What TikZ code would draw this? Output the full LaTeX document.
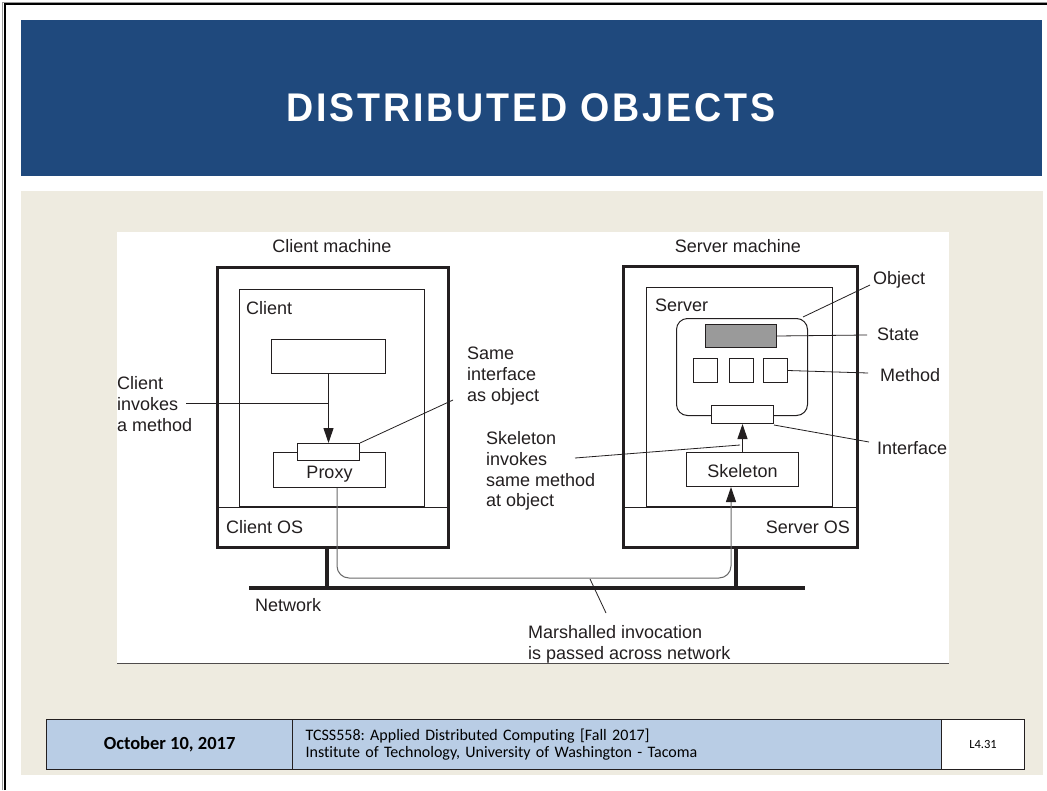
\documentclass[tikz,border=0pt]{standalone}
\usepackage{fontspec}
\setmainfont{Liberation Sans}
\newfontfamily\titlefont[LetterSpace=7,FakeStretch=0.94]{Liberation Sans}
\newfontfamily\footfont[Ligatures=NoCommon]{Carlito}
\usetikzlibrary{arrows.meta}
\frenchspacing

\definecolor{titleblue}{HTML}{1F497D}
\definecolor{panel}{HTML}{EEEBE0}
\definecolor{footblue}{HTML}{B9CDE5}
\definecolor{stategray}{HTML}{9A9A9A}
\definecolor{ink}{HTML}{231F20}
\definecolor{wire}{HTML}{6A6A6A}

\tikzset{
  machine/.style={draw=ink, line width=3pt, inner sep=0pt, anchor=north west},
  box/.style={draw=ink, line width=1pt, fill=white, inner sep=0pt, anchor=north west},
  boxtext/.style={box, text=ink, font=\fontsize{18}{20.7}\selectfont, text height=18pt, text depth=2pt},
  lbl/.style={inner sep=0pt, text=ink, font=\fontsize{18}{20.7}\selectfont, align=left},
  lead/.style={draw=ink, line width=0.8pt},
  tip/.style={-{Triangle[length=15pt,width=10pt,color=ink]}},
  arr/.style={draw=ink, line width=1pt, tip},
  net/.style={draw=ink, line width=3.5pt},
  msg/.style={draw=wire, line width=1pt, rounded corners=12pt},
  foot/.style={draw=ink, line width=1.2pt, inner sep=0pt, anchor=north west, minimum height=50pt},
}

\begin{document}
\begin{tikzpicture}[x=1pt, y=-1pt]
  % page and frame
  \useasboundingbox[fill=white] (0,0) rectangle (1047,790);
  \draw[black!40, line width=1pt] (2,790) -- (2,2) -- (1047,2);
  \draw[black, line width=2pt] (5,790) -- (5,4) -- (1047,4);

  % title band and panels
  \fill[titleblue] (21,20) rectangle (1042,176);
  \node[text=white, font=\titlefont\bfseries\fontsize{40}{44}\selectfont] (title) at (531,108) {DISTRIBUTED OBJECTS};
  \fill[panel] (21,191) rectangle (1043,775);
  \fill[white] (117,232) rectangle (949,663);
  \draw[ink!80, line width=0.8pt] (117,663) -- (949,663);

  % ---------- client machine ----------
  \node[lbl, anchor=north] (cmt) at (332,239.5) {Client machine};
  \node[machine, minimum width=231pt, minimum height=280pt] (cm) at (216,266) {};
  \node[box, minimum width=185pt, minimum height=217pt] (cbox) at (239,289) {};
  \draw[ink, line width=1pt] (cm.west |- cbox.south) -- (cm.east |- cbox.south);
  \node[lbl, anchor=north west] (clbl) at (246,301.5) {Client};
  \node[lbl, anchor=north west] (cos) at (226,520.5) {Client OS};
  \node[box, minimum width=114pt, minimum height=34pt] (crect) at (271,339) {};
  \node[boxtext, minimum width=112pt, minimum height=35pt] (proxy) at (273,452) {Proxy};
  \node[box, minimum width=62pt, minimum height=17pt] (cif) at (297,443) {};
  \draw[arr] (crect.south) -- (cif.north);

  % ---------- server machine ----------
  \node[lbl, anchor=north] (smt) at (738,239.5) {Server machine};
  \node[machine, minimum width=234pt, minimum height=281pt] (sm) at (622,265) {};
  \node[box, minimum width=186pt, minimum height=219pt] (sbox) at (646,287) {};
  \draw[ink, line width=1pt] (sm.west |- sbox.south) -- (sm.east |- sbox.south);
  \node[lbl, anchor=north west] (slbl) at (655,298.5) {Server};
  \node[lbl, anchor=north east] (sos) at (850,520.5) {Server OS};
  \node[box, rounded corners=11pt, minimum width=131pt, minimum height=97pt] (obj) at (676,318) {};
  \node[box, fill=stategray, minimum width=71pt, minimum height=23pt] (state) at (705,324) {};
  \node[box, minimum width=24pt, minimum height=24pt] (m1) at (693,358) {};
  \node[box, minimum width=24pt, minimum height=24pt] (m2) at (729,358) {};
  \node[box, minimum width=24pt, minimum height=24pt] (m3) at (763,358) {};
  \node[box, minimum width=62pt, minimum height=18pt] (sif) at (711,405) {};
  \node[boxtext, minimum width=112pt, minimum height=34pt] (skel) at (686,452) {Skeleton};
  \draw[arr] (skel.north) -- (sif.south);

  % ---------- network ----------
  \coordinate (nL) at (249,588);
  \coordinate (nR) at (805,588);
  \coordinate (cdrop) at (327,588);
  \coordinate (sdrop) at (736,588);
  \draw[net] (nL) -- (nR);
  \draw[net] (cdrop |- cm.south) -- (cdrop);
  \draw[net] (sdrop |- sm.south) -- (sdrop);
  \node[lbl, anchor=north west] (nett) at (255,598.5) {Network};

  % invocation path from proxy to skeleton
  \coordinate (mL) at (337,578);
  \coordinate (mR) at (731,578);
  \draw[msg, tip] (proxy.south -| mL) -- (mL) -- (mR) -- (skel.south -| mR);

  % ---------- annotations ----------
  \node[lbl, anchor=north west] (cinv) at (117,376.5) {Client\\invokes\\a method};
  \coordinate (cinvA) at (186,403);
  \draw[lead] (cinvA) -- (cinvA -| crect.south);

  \node[lbl, anchor=north west] (same) at (467,347) {Same\\interface\\as object};
  \coordinate (sameA) at (453,400);
  \draw[lead] (cif.north east) -- (sameA);

  \node[lbl, anchor=north west] (skinv) at (486,431.5) {Skeleton\\invokes\\same method\\at object};
  \coordinate (skA) at (575,458);
  \coordinate (skB) at (740,445);
  \draw[lead] (skA) -- (skB);

  \node[lbl, anchor=north west] (objt) at (873,271.5) {Object};
  \coordinate (objA) at (870,285);
  \draw[lead] ([xshift=-5pt,yshift=1pt]obj.north east) -- (objA);

  \node[lbl, anchor=north west] (statet) at (877,327.5) {State};
  \coordinate (stA) at (867,335);
  \draw[lead] (state.east) -- (stA);

  \node[lbl, anchor=north west] (metht) at (880,368.5) {Method};
  \coordinate (meA) at (868,373);
  \draw[lead] (m3.east) -- (meA);

  \node[lbl, anchor=north west] (ift) at (877,441.5) {Interface};
  \coordinate (ifA) at (869,442);
  \draw[lead] ([yshift=-1pt]sif.south east) -- (ifA);

  \node[lbl, anchor=north west] (mars) at (528,625.5) {Marshalled invocation\\is passed across network};
  \coordinate (maA) at (590,579);
  \coordinate (maB) at (606,613);
  \draw[lead] (maA) -- (maB);

  % ---------- footer ----------
  \node[foot, fill=footblue, minimum width=246pt,
        font=\footfont\bfseries\fontsize{18.5}{21}\selectfont] (fdate) at (46,719) {October 10, 2017};
  \node[foot, fill=footblue, minimum width=649pt, text width=623pt, inner xsep=13pt,
        align=left, font=\footfont\fontsize{16}{17}\selectfont] (fcourse) at (292,719)
        {TCSS558: Applied Distributed Computing [Fall 2017]\\Institute of Technology, University of Washington - Tacoma};
  \node[foot, fill=white, minimum width=83pt,
        font=\footfont\fontsize{12.5}{14}\selectfont] (fpage) at (941,719) {L4.31};
\end{tikzpicture}
\end{document}
